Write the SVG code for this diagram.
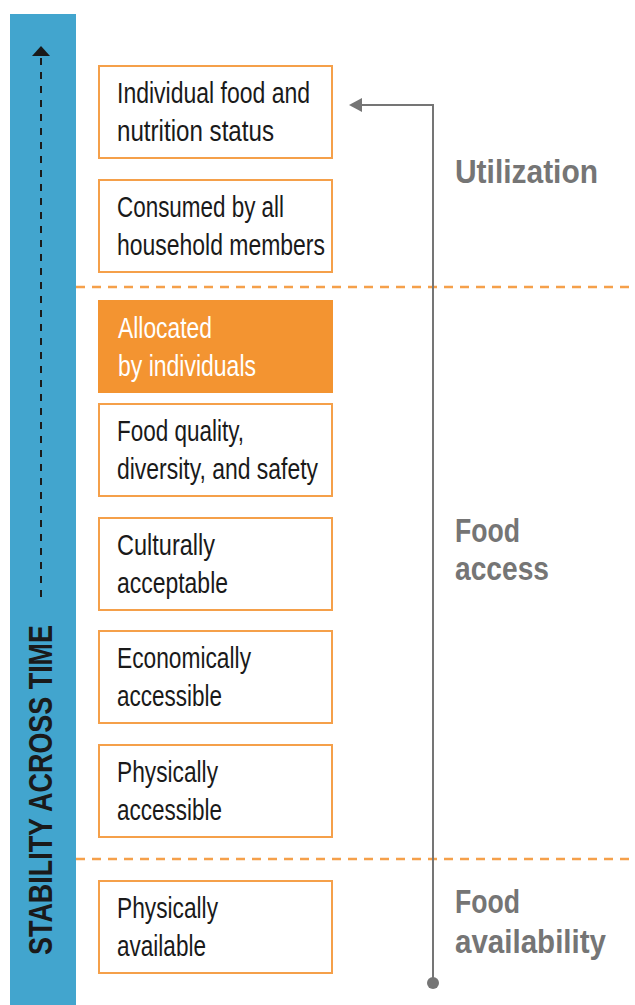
<svg xmlns="http://www.w3.org/2000/svg" width="635" height="1005" viewBox="0 0 635 1005">
<style>
.box{fill:#fff;stroke:#F5A04A;stroke-width:2}
.boxf{fill:#F39431;stroke:#F39431;stroke-width:2}
.t{font-family:"Liberation Sans",Arial,sans-serif;font-size:29px;fill:#1a1a1a}
.tw{font-family:"Liberation Sans",Arial,sans-serif;font-size:29px;fill:#fff}
.lab{font-family:"Liberation Sans",Arial,sans-serif;font-size:33px;font-weight:bold;fill:#757575}
.sep{stroke:#F5A04A;stroke-width:2.5;stroke-dasharray:9 7;fill:none}
</style>
<defs>
<marker id="ah" markerWidth="14" markerHeight="14" refX="0" refY="7" orient="auto" markerUnits="userSpaceOnUse">
<path d="M0,0 L13,7 L0,14 Z" fill="#757575"/>
</marker>
</defs>
<g id="stability-bar">
<rect x="10" y="14" width="66" height="991" fill="#42A5CE"/>
<line x1="41" y1="58" x2="41" y2="600" stroke="#1a1a1a" stroke-width="2" stroke-dasharray="7 7"/>
<path d="M32,56 L50,56 L41,46 Z" fill="#1a1a1a"/>
<text x="0" y="0" transform="translate(52,955) rotate(-90)" font-family="Liberation Sans,Arial,sans-serif" font-size="33" font-weight="bold" fill="#1a1a1a" textLength="330" lengthAdjust="spacingAndGlyphs">STABILITY ACROSS TIME</text>
</g>
<g id="separators">
<line class="sep" x1="76" y1="287" x2="635" y2="287"/>
<line class="sep" x1="76" y1="859" x2="635" y2="859"/>
</g>
<g id="connectors">
<polyline points="433,983 433,105 362,105" fill="none" stroke="#757575" stroke-width="2" marker-end="url(#ah)"/>
<circle cx="433" cy="983" r="6" fill="#757575"/>
</g>
<g id="n1">
<rect class="box" x="99" y="66" width="233" height="92"/>
<text class="t" x="117" y="103" textLength="193" lengthAdjust="spacingAndGlyphs">Individual food and</text>
<text class="t" x="117" y="141" textLength="157" lengthAdjust="spacingAndGlyphs">nutrition status</text>
</g>
<g id="n2">
<rect class="box" x="99" y="180" width="233" height="92"/>
<text class="t" x="117" y="217" textLength="167" lengthAdjust="spacingAndGlyphs">Consumed by all</text>
<text class="t" x="117" y="255" textLength="208" lengthAdjust="spacingAndGlyphs">household members</text>
</g>
<g id="n3">
<rect class="boxf" x="99" y="301" width="233" height="91"/>
<text class="tw" x="118" y="338" textLength="94" lengthAdjust="spacingAndGlyphs">Allocated</text>
<text class="tw" x="118" y="376" textLength="138" lengthAdjust="spacingAndGlyphs">by individuals</text>
</g>
<g id="n4">
<rect class="box" x="99" y="404" width="233" height="92"/>
<text class="t" x="117" y="441" textLength="127" lengthAdjust="spacingAndGlyphs">Food quality,</text>
<text class="t" x="117" y="479" textLength="201" lengthAdjust="spacingAndGlyphs">diversity, and safety</text>
</g>
<g id="n5">
<rect class="box" x="99" y="518" width="233" height="92"/>
<text class="t" x="117" y="555" textLength="98" lengthAdjust="spacingAndGlyphs">Culturally</text>
<text class="t" x="117" y="593" textLength="111" lengthAdjust="spacingAndGlyphs">acceptable</text>
</g>
<g id="n6">
<rect class="box" x="99" y="631" width="233" height="92"/>
<text class="t" x="117" y="668" textLength="134" lengthAdjust="spacingAndGlyphs">Economically</text>
<text class="t" x="117" y="706" textLength="105" lengthAdjust="spacingAndGlyphs">accessible</text>
</g>
<g id="n7">
<rect class="box" x="99" y="745" width="233" height="92"/>
<text class="t" x="117" y="782" textLength="101" lengthAdjust="spacingAndGlyphs">Physically</text>
<text class="t" x="117" y="820" textLength="105" lengthAdjust="spacingAndGlyphs">accessible</text>
</g>
<g id="n8">
<rect class="box" x="99" y="881" width="233" height="92"/>
<text class="t" x="117" y="918" textLength="101" lengthAdjust="spacingAndGlyphs">Physically</text>
<text class="t" x="117" y="956" textLength="89" lengthAdjust="spacingAndGlyphs">available</text>
</g>
<g id="labels">
<text class="lab" x="455" y="183" textLength="143" lengthAdjust="spacingAndGlyphs">Utilization</text>
<text class="lab" x="455" y="542" textLength="65" lengthAdjust="spacingAndGlyphs">Food</text>
<text class="lab" x="455" y="580" textLength="94" lengthAdjust="spacingAndGlyphs">access</text>
<text class="lab" x="455" y="913" textLength="65" lengthAdjust="spacingAndGlyphs">Food</text>
<text class="lab" x="455" y="953" textLength="151" lengthAdjust="spacingAndGlyphs">availability</text>
</g>
</svg>
